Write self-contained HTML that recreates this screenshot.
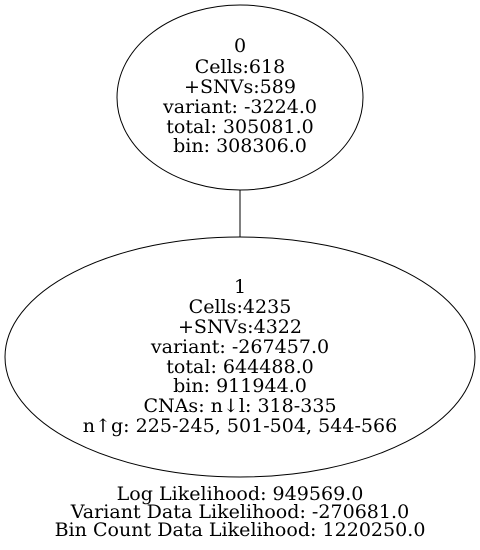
<!DOCTYPE html>
<html><head><meta charset="utf-8"><style>html,body{margin:0;padding:0;background:#fff}svg{display:block}</style></head>
<body>
<svg width="480" height="550" viewBox="0 0 480 550" xmlns="http://www.w3.org/2000/svg">
<g fill="none" stroke="#000" stroke-width="1">
<ellipse cx="240" cy="97.5" rx="123" ry="92.5"/>
<ellipse cx="240" cy="357" rx="235" ry="120"/>
<line x1="240" y1="190" x2="240" y2="237"/>
</g>
<g transform="translate(240,0) scale(1.03,1)">
<g font-family="'DejaVu Serif','Liberation Serif',serif" font-size="18.5" text-anchor="middle" fill="#000">
<text x="0" y="52">0</text>
<text x="0" y="73">Cells:618</text>
<text x="0" y="93">+SNVs:589</text>
<text x="0" y="113">variant: -3224.0</text>
<text x="0" y="133">total: 305081.0</text>
<text x="0" y="152">bin: 308306.0</text>
<text x="0" y="293">1</text>
<text x="0" y="313">Cells:4235</text>
<text x="0" y="333">+SNVs:4322</text>
<text x="0" y="353">variant: -267457.0</text>
<text x="0" y="373">total: 644488.0</text>
<text x="0" y="392">bin: 911944.0</text>
<text x="0" y="412">CNAs: n↓l: 318-335</text>
<text x="0" y="432">n↑g: 225-245, 501-504, 544-566</text>
<text x="0" y="500">Log Likelihood: 949569.0</text>
<text x="0" y="518">Variant Data Likelihood: -270681.0</text>
<text x="0" y="536">Bin Count Data Likelihood: 1220250.0</text>
</g>
</g>
</svg>
</body></html>
